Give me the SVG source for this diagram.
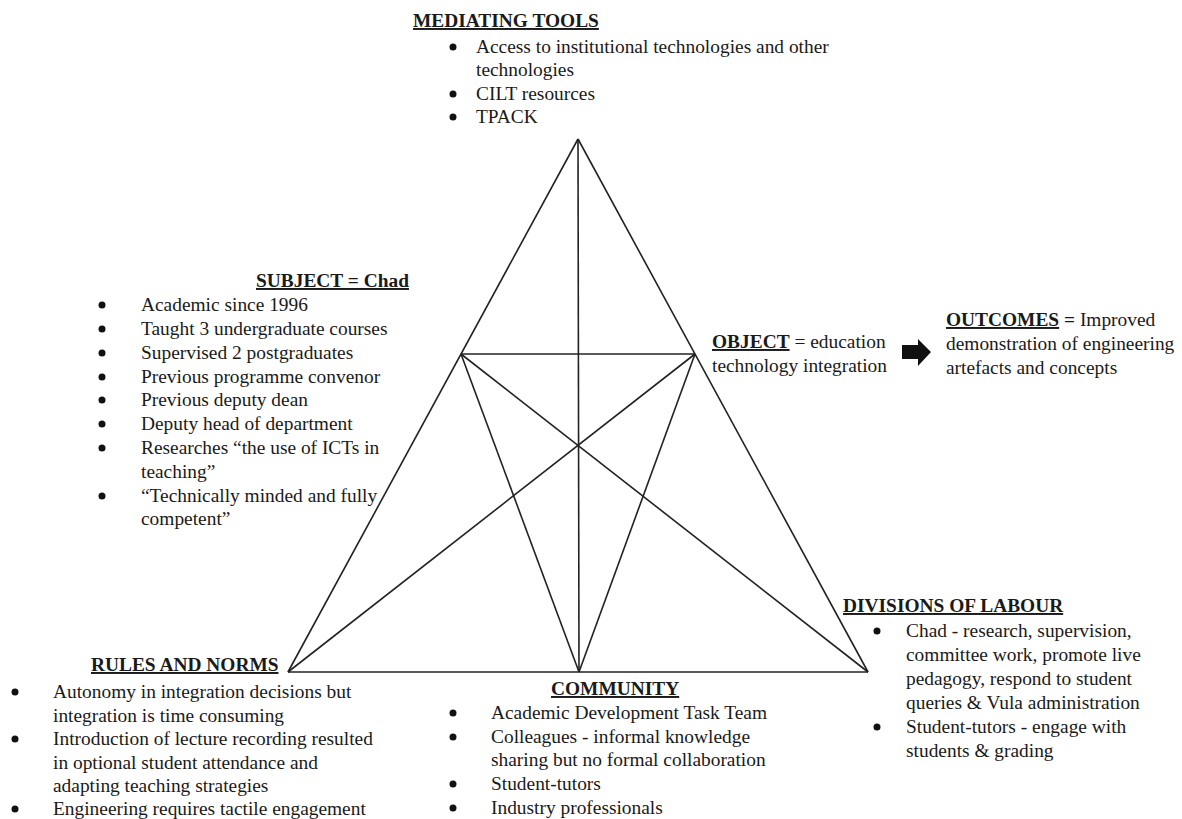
<svg xmlns="http://www.w3.org/2000/svg" width="1182" height="819" viewBox="0 0 1182 819">
<style>
text{font-family:"Liberation Serif","Times New Roman",serif;font-size:19.4px;fill:#1a1a1a}
.h{font-weight:bold;text-decoration:underline}
.b{font-weight:bold}
.dot{fill:#111}
.ln{stroke:#222;stroke-width:1.6;fill:none}
</style>
<rect width="1182" height="819" fill="#fff"/>
<g id="connectors">
<line class="ln" x1="288" y1="672" x2="578" y2="139"/>
<line class="ln" x1="578" y1="139" x2="868" y2="672"/>
<line class="ln" x1="288" y1="672" x2="868" y2="672"/>
<line class="ln" x1="578" y1="139" x2="579" y2="672"/>
<line class="ln" x1="461" y1="354" x2="695" y2="354"/>
<line class="ln" x1="461" y1="354" x2="579" y2="672"/>
<line class="ln" x1="461" y1="354" x2="868" y2="672"/>
<line class="ln" x1="695" y1="354" x2="579" y2="672"/>
<line class="ln" x1="695" y1="354" x2="288" y2="672"/>
<polygon id="arrow-object-outcomes" fill="#111" points="902,345 918,345 918,339 931,352 918,366 918,359 902,359"/>
</g>
<g id="mediating-tools">
<text x="413" y="27" class="h">MEDIATING TOOLS</text>
<circle class="dot" cx="453" cy="47" r="3.5"/>
<text x="476" y="53">Access to institutional technologies and other</text>
<text x="476" y="76">technologies</text>
<circle class="dot" cx="453" cy="94" r="3.5"/>
<text x="476" y="100">CILT resources</text>
<circle class="dot" cx="453" cy="117" r="3.5"/>
<text x="476" y="123">TPACK</text>
</g>
<g id="subject">
<text x="256" y="287" class="h">SUBJECT = Chad</text>
<circle class="dot" cx="102" cy="305" r="3.5"/>
<text x="141" y="311">Academic since 1996</text>
<circle class="dot" cx="102" cy="329" r="3.5"/>
<text x="141" y="335">Taught 3 undergraduate courses</text>
<circle class="dot" cx="102" cy="353" r="3.5"/>
<text x="141" y="359">Supervised 2 postgraduates</text>
<circle class="dot" cx="102" cy="377" r="3.5"/>
<text x="141" y="383">Previous programme convenor</text>
<circle class="dot" cx="102" cy="400" r="3.5"/>
<text x="141" y="406">Previous deputy dean</text>
<circle class="dot" cx="102" cy="424" r="3.5"/>
<text x="141" y="430">Deputy head of department</text>
<circle class="dot" cx="102" cy="448" r="3.5"/>
<text x="141" y="454">Researches “the use of ICTs in</text>
<text x="141" y="478">teaching”</text>
<circle class="dot" cx="102" cy="496" r="3.5"/>
<text x="141" y="502">“Technically minded and fully</text>
<text x="141" y="525">competent”</text>
</g>
<g id="object">
<text x="712" y="348"><tspan class="h">OBJECT</tspan> = education</text>
<text x="712" y="372">technology integration</text>
</g>
<g id="outcomes">
<text x="946" y="326"><tspan class="h">OUTCOMES</tspan><tspan class="b"> =</tspan> Improved</text>
<text x="946" y="350">demonstration of engineering</text>
<text x="946" y="374">artefacts and concepts</text>
</g>
<g id="divisions-of-labour">
<text x="843" y="612" class="h">DIVISIONS OF LABOUR</text>
<circle class="dot" cx="877" cy="631" r="3.5"/>
<text x="906" y="637">Chad - research, supervision,</text>
<text x="906" y="661">committee work, promote live</text>
<text x="906" y="685">pedagogy, respond to student</text>
<text x="906" y="709">queries &amp; Vula administration</text>
<circle class="dot" cx="877" cy="727" r="3.5"/>
<text x="906" y="733">Student-tutors - engage with</text>
<text x="906" y="757">students &amp; grading</text>
</g>
<g id="rules-and-norms">
<text x="91" y="671" class="h">RULES AND NORMS</text>
<circle class="dot" cx="15" cy="692" r="3.5"/>
<text x="53" y="698">Autonomy in integration decisions but</text>
<text x="53" y="722">integration is time consuming</text>
<circle class="dot" cx="15" cy="739" r="3.5"/>
<text x="53" y="745">Introduction of lecture recording resulted</text>
<text x="53" y="769">in optional student attendance and</text>
<text x="53" y="792">adapting teaching strategies</text>
<circle class="dot" cx="15" cy="809" r="3.5"/>
<text x="53" y="815">Engineering requires tactile engagement</text>
</g>
<g id="community">
<text x="551" y="695" class="h">COMMUNITY</text>
<circle class="dot" cx="453" cy="713" r="3.5"/>
<text x="491" y="719">Academic Development Task Team</text>
<circle class="dot" cx="453" cy="737" r="3.5"/>
<text x="491" y="743">Colleagues - informal knowledge</text>
<text x="491" y="766">sharing but no formal collaboration</text>
<circle class="dot" cx="453" cy="784" r="3.5"/>
<text x="491" y="790">Student-tutors</text>
<circle class="dot" cx="453" cy="808" r="3.5"/>
<text x="491" y="814">Industry professionals</text>
</g>
</svg>
